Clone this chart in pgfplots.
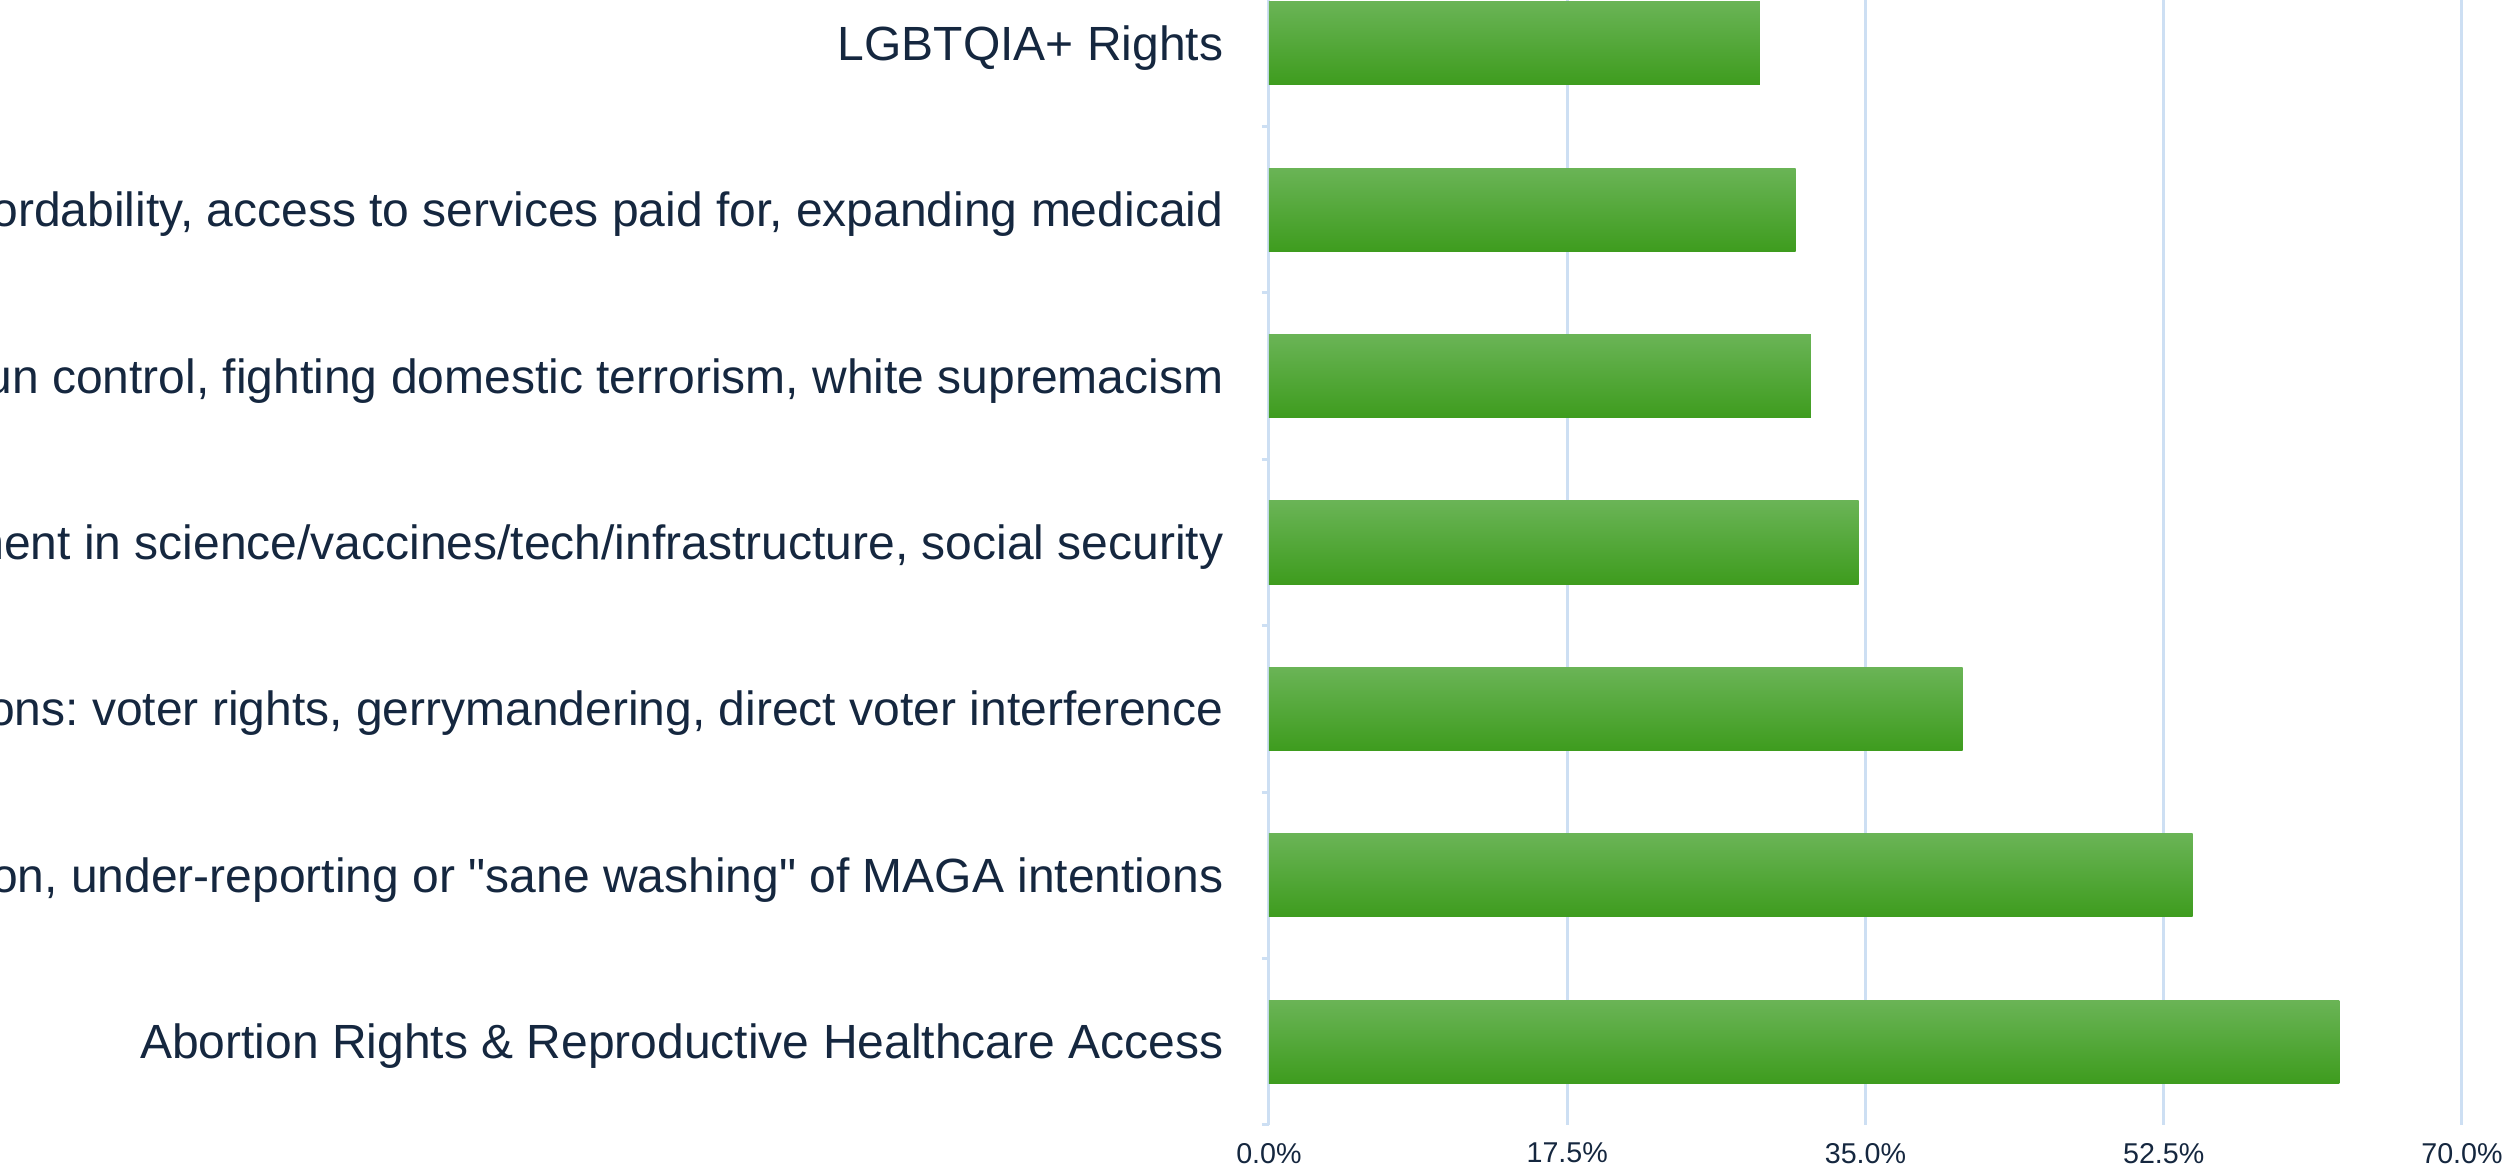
\documentclass[border=0pt]{standalone}
\usepackage{pgfplots}
\pgfplotsset{compat=1.18}
\usepackage{fontspec}
\setmainfont{Liberation Sans}[Ligatures=TeXOff]
\definecolor{gridblue}{HTML}{CDDFF3}
\definecolor{labelcol}{HTML}{15273F}
\definecolor{barTop}{HTML}{6AB456}
\definecolor{barMid}{HTML}{4CAE2C}
\definecolor{barBot}{HTML}{3E9C1E}
\pgfplotstableread{
val pos
62.8 0
54.2 1
40.7 2
34.6 3
31.8 4
30.9 5
28.8 6
}\bardata
\begin{document}
\frenchspacing
\begin{tikzpicture}
\useasboundingbox (-380.7bp,-12.9bp) rectangle (372bp,337.5bp);
\clip (-380.7bp,-12.9bp) rectangle (372bp,337.5bp);
\begin{axis}[
  at={(0,0)}, anchor=south west,
  scale only axis,
  width=357.9bp, height=337.5bp,
  xmin=0, xmax=70, ymin=-0.5, ymax=6.26,
  axis line style={draw=none},
  xtick={0,17.5,35,52.5,70},
  xticklabels={0.0\%,17.5\%,35.0\%,52.5\%,70.0\%},
  xtick pos=bottom, ytick pos=left,
  xmajorgrids,
  grid style={draw=gridblue, line width=0.9bp},
  xtick style={draw=none},
  ytick={0,1,2,3,4,5,6},
  minor ytick={-0.5,0.5,1.5,2.5,3.5,4.5,5.5},
  ytick style={draw=gridblue, line width=0.9bp},
  major tick length=0pt, minor tick length=2.1bp,
  tick align=outside,
  yticklabels={
    Abortion Rights \& Reproductive Healthcare Access,
    {Media misinformation, under-reporting or "sane washing" of MAGA intentions},
    {Elections: voter rights, gerrymandering, direct voter interference},
    {Government investment in science/vaccines/tech/infrastructure, social security},
    {Gun control, fighting domestic terrorism, white supremacism},
    {Healthcare affordability, access to services paid for, expanding medicaid},
    LGBTQIA+ Rights},
  yticklabel style={anchor=base east, inner sep=0pt, xshift=-13.5bp, yshift=-5.1bp, text=labelcol, font=\fontsize{14.4bp}{17bp}\selectfont},
  xticklabel style={anchor=north, inner sep=0pt, yshift=-5.2bp, text=labelcol, font=\fontsize{8.6bp}{10bp}\selectfont},
  xbar, bar width=0.5, bar shift=0pt,
  barstyle/.style={xbar, bar shift=0pt, draw=none, top color=barTop, middle color=barMid, bottom color=barBot},
]
\addplot[barstyle] table[x=val, y=pos, skip coords between index={1}{7}] {\bardata};
\addplot[barstyle] table[x=val, y=pos, skip coords between index={0}{1}, skip coords between index={2}{7}] {\bardata};
\addplot[barstyle] table[x=val, y=pos, skip coords between index={0}{2}, skip coords between index={3}{7}] {\bardata};
\addplot[barstyle] table[x=val, y=pos, skip coords between index={0}{3}, skip coords between index={4}{7}] {\bardata};
\addplot[barstyle] table[x=val, y=pos, skip coords between index={0}{4}, skip coords between index={5}{7}] {\bardata};
\addplot[barstyle] table[x=val, y=pos, skip coords between index={0}{5}, skip coords between index={6}{7}] {\bardata};
\addplot[barstyle] table[x=val, y=pos, skip coords between index={0}{6}] {\bardata};
\end{axis}
\end{tikzpicture}
\end{document}
